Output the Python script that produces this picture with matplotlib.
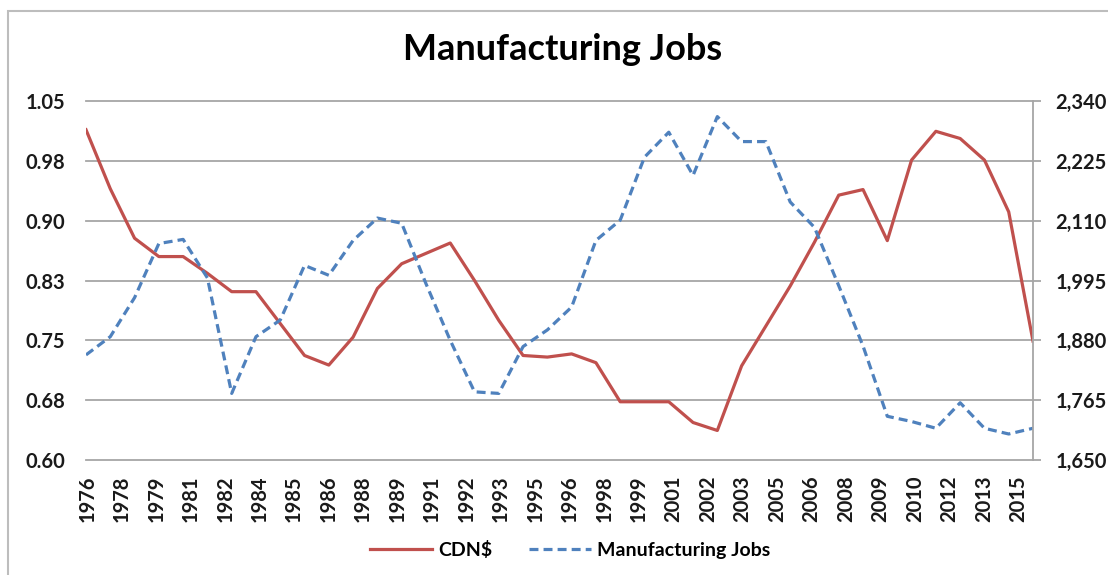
import matplotlib

matplotlib.use("Agg")
import matplotlib.pyplot as plt
import numpy as np
from matplotlib.lines import Line2D
from matplotlib.patches import Rectangle

plt.rcParams["font.family"] = ["Lato", "DejaVu Sans"]

# one value per year, 1976..2015
years = list(range(1976, 2016))
cdn = [1.014, 0.940, 0.878, 0.855, 0.855, 0.834, 0.811, 0.811, 0.771, 0.731,
       0.719, 0.754, 0.815, 0.846, 0.859, 0.872, 0.825, 0.775, 0.731, 0.729,
       0.733, 0.722, 0.673, 0.673, 0.673, 0.647, 0.637, 0.718, 0.768, 0.818,
       0.873, 0.932, 0.939, 0.875, 0.976, 1.012, 1.003, 0.976, 0.911, 0.749]
jobs = [1852, 1887, 1962, 2066, 2074, 2000, 1778, 1887, 1919, 2024,
        2005, 2072, 2115, 2105, 1989, 1880, 1781, 1778, 1868, 1900,
        1944, 2072, 2111, 2232, 2280, 2197, 2310, 2262, 2262, 2146,
        2097, 1985, 1869, 1734, 1724, 1711, 1760, 1711, 1700, 1711]

# category labels as shown under the axis (irregular spacing in the original)
year_labels = ["1976", "1978", "1979", "1981", "1982", "1984", "1985", "1986",
               "1988", "1989", "1991", "1992", "1993", "1995", "1996", "1998",
               "1999", "2001", "2002", "2003", "2005", "2006", "2008", "2009",
               "2010", "2012", "2013", "2015"]
left_labels = ["0.60", "0.68", "0.75", "0.83", "0.90", "0.98", "1.05"]
right_labels = ["1,650", "1,765", "1,880", "1,995", "2,110", "2,225", "2,340"]

RED = "#C0504D"
BLUE = "#4F81BD"
GRID = "#A6A6A6"
TXT = "#1a1a1a"

W, H = 1108, 575
fig = plt.figure(figsize=(W / 100, H / 100), dpi=100)

# chart frame (Excel chart area border)
fig.patches.append(Rectangle((8 / W, -0.05), 1.2, 1 - 11 / H + 0.05,
                             transform=fig.transFigure, fill=False,
                             edgecolor="#BDBDBD", linewidth=1.5))

ax = fig.add_axes([86 / W, 1 - 460 / H, (1033 - 86) / W, (460 - 101) / H])
ax2 = ax.twinx()

x = np.arange(len(years))
ax.plot(x, cdn, color=RED, linewidth=2.3, solid_joinstyle="round")
ax2.plot(x, jobs, color=BLUE, linewidth=2.3, dashes=(2.8, 1.6))

ax.set_xlim(0, len(years) - 1)
ax.set_ylim(0.60, 1.05)
ax2.set_ylim(1650, 2340)

ax.set_yticks(np.linspace(0.60, 1.05, 7))
ax.set_yticklabels(left_labels)
ax2.set_yticks(np.linspace(1650, 2340, 7))
ax2.set_yticklabels(right_labels)
ax.set_xticks(np.linspace(0.05, 38.4, len(year_labels)))
ax.set_xticklabels(year_labels, rotation=90)

ax.yaxis.grid(True, color=GRID, linewidth=1.3)
for gl in ax.get_ygridlines():
    gl.set_clip_on(False)
ax.set_axisbelow(True)

for a in (ax, ax2):
    for s in ("top", "left", "bottom"):
        a.spines[s].set_visible(False)
ax.spines["right"].set_visible(False)
ax2.spines["right"].set_color(GRID)
ax2.spines["right"].set_linewidth(1.3)

ax.tick_params(axis="y", length=0, pad=15, labelsize=14.5, labelcolor=TXT)
ax.tick_params(axis="x", length=0, pad=11, labelsize=14.5, labelcolor=TXT)
ax2.tick_params(axis="y", length=6, width=1.3, color=GRID, pad=10,
                labelsize=14.5, labelcolor=TXT)
for lab in ax.get_xticklabels() + ax.get_yticklabels() + ax2.get_yticklabels():
    lab.set_fontweight("bold")

fig.text(563 / W, 1 - 50 / H, "Manufacturing Jobs", ha="center", va="center",
         fontsize=26, fontweight="bold", color="black")

handles = [Line2D([], [], color=RED, linewidth=2.3),
           Line2D([], [], color=BLUE, linewidth=2.3, dashes=(2.8, 1.6))]
fig.legend(handles, ["CDN$", "Manufacturing Jobs"], loc="center",
           bbox_to_anchor=(570 / W, 1 - 550 / H), ncol=2, frameon=False,
           handlelength=3.2, handletextpad=0.3, columnspacing=1.9,
           prop={"weight": "bold", "size": 14})

fig.savefig("out.png", dpi=100)
